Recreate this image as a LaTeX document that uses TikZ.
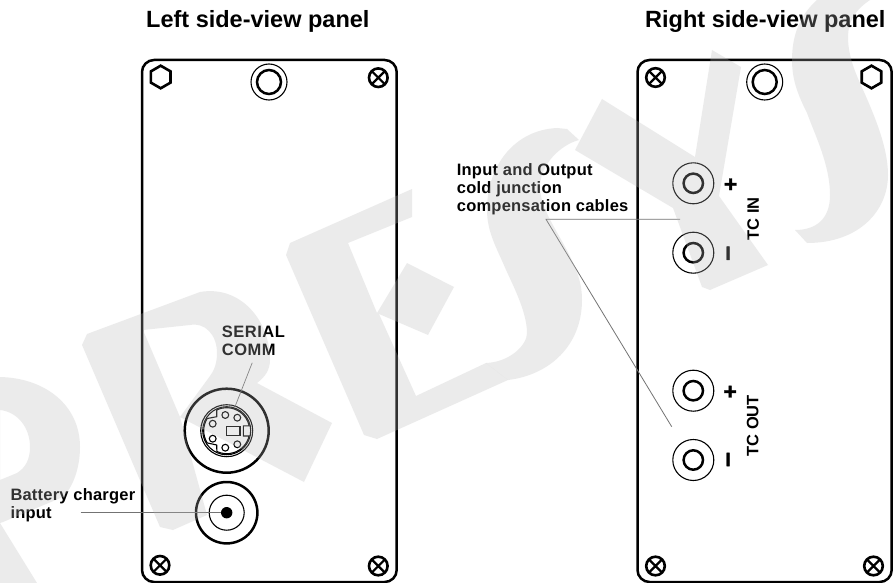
\documentclass[tikz,border=0pt]{standalone}
\usepackage{fontspec}
\setmainfont{Liberation Sans}
\newfontfamily\lblfont[LetterSpace=1.3]{Liberation Sans}
\newfontfamily\serfont[LetterSpace=3]{Liberation Sans}
\newfontfamily\signfont[FakeBold=1.5]{Liberation Sans Bold}
\usetikzlibrary{calc}
\definecolor{lead}{gray}{0.45}
\definecolor{wm}{gray}{0.72}
\tikzset{
  panel/.style={draw=black,line width=2.5pt,rounded corners=12pt},
  thick line/.style={draw=black,line width=2.5pt},
  thin line/.style={draw=black,line width=1.1pt},
  leader/.style={draw=lead,line width=0.8pt},
  title/.style={font=\bfseries\fontsize{23.5}{26}\selectfont,anchor=base west,inner sep=0pt},
  lbl/.style={font=\lblfont\bfseries\fontsize{16.5}{17.8}\selectfont,anchor=north west,inner sep=0pt,align=left},
  ser/.style={font=\serfont\bfseries\fontsize{16.5}{17.8}\selectfont,anchor=north west,inner sep=0pt,align=left},
  tc/.style={font=\bfseries\fontsize{16.5}{18}\selectfont,rotate=90,inner sep=0pt},
  sign/.style={font=\signfont\fontsize{23}{24}\selectfont,rotate=90,inner sep=0pt},
  minussign/.style={font=\signfont\fontsize{27}{28}\selectfont,rotate=90,inner sep=0pt},
  wmark/.style={fill=wm,fill opacity=0.27,even odd rule},
  xscrew/.pic={
    \draw[line width=2.6pt] (0,0) circle (9.3);
    \draw[line width=2.2pt] (45:9.3) -- (225:9.3) (135:9.3) -- (315:9.3);
  },
  hexscrew/.pic={
    \draw[line width=2.6pt,line join=miter] (90:11.3) -- (30:11.3) -- (-30:11.3) -- (-90:11.3) -- (-150:11.3) -- (150:11.3) -- cycle;
  },
  bushing/.pic={
    \draw[thin line] (0,0) circle (18);
    \draw[thick line] (0,0) circle (12);
  },
  jack/.pic={
    \draw[line width=1.1pt] (0,0) circle (20.5);
    \draw[thick line] (0,0) circle (9.7);
  },
  pin/.style={draw=black,line width=1.1pt,fill=none}
}
\begin{document}
\begin{tikzpicture}[x=1pt,y=-1pt]
\useasboundingbox (0,0) rectangle (894,583);
\fill[white] (0,0) rectangle (894,583);

% Panels
\draw[panel] (142,60) rectangle (396.7,582);
\draw[panel] (637.5,60) rectangle (891.7,582);

% Titles
\node[title] (lefttitle) at (146,27.5) {Left side-view panel};
\node[title] (righttitle) at (645,27.5) {Right side-view panel};

% Screws left
\pic at (160.7,77) {hexscrew};
\pic at (378.3,77.7) {xscrew};
\pic at (160,565.3) {xscrew};
\pic at (378.3,566) {xscrew};
\pic at (269,82) {bushing};

% Screws right
\pic at (655.5,77.5) {xscrew};
\pic at (871.5,77) {hexscrew};
\pic at (655.5,566) {xscrew};
\pic at (873.5,566) {xscrew};
\pic at (764.7,82) {bushing};

% Serial connector
\coordinate (din) at (226.7,430.7);
\draw[thick line] (din) circle (42);
\draw[thin line] (din) circle (26);
\draw[thin line] (din) circle (24);
\begin{scope}[shift={(din)},yscale=-1]
  \draw[thin line,line join=miter]
    (-10,20.7) arc[start angle=115.8,end angle=12,radius=23]
    -- (16.6,4.8) -- (16.6,-5.3) -- (22.4,-5.3)
    arc[start angle=-13.3,end angle=-115.4,radius=23]
    -- (-10,-14.3) -- (-19.5,-12.2)
    arc[start angle=212,end angle=148,radius=23]
    -- (-10,14) -- cycle;
  \draw[thin line] (0,-5) rectangle (13.3,4);
\end{scope}
\foreach \p in {(225.3,415),(237.3,417.7),(212.7,423.7),(212.7,438.7),(225.3,447.7),(237.3,444.3)}
  \draw[pin] \p circle (3.4);

% Charger jack
\coordinate (jackc) at (226.7,512.7);
\draw[thick line] (jackc) circle (30.7);
\draw[thin line] (jackc) circle (17.5);
\node[circle,fill=black,inner sep=0pt,minimum size=11.4pt] (chargepin) at (jackc) {};

% TC jacks
\pic at (693.3,183.3) {jack};
\pic at (693.3,252.7) {jack};
\pic at (693.3,390.7) {jack};
\pic at (693.3,460) {jack};
\node[sign] (tcinplus) at (731.5,184.3) {+};
\node[minussign] (tcinminus) at (731,253.3) {–};
\node[sign] (tcoutplus) at (731,391.7) {+};
\node[minussign] (tcoutminus) at (731,459.5) {–};
\node[tc] (tcin) at (753.3,218.8) {TC IN};
\node[tc] (tcout) at (752.7,425.8) {TC OUT};

% Labels
\node[ser] (serial) at (221.7,326) {SERIAL\\COMM};
\node[lbl] (charger) at (10.3,488.2) {Battery charger\\input};
\node[lbl] (cables) at (456.7,163.5) {Input and Output\\cold junction\\compensation cables};

% Leaders
\coordinate (chargerstart) at (80.7,512.7);
\coordinate (serialstart) at (252.2,362.8);
\coordinate (serialend) at (235,406.7);
\coordinate (cablesjoint) at (546,219.3);
\coordinate (cablesin) at (680,219.3);
\coordinate (cablesout) at (671.7,426.7);
\draw[leader] (chargerstart) -- (chargepin.west);
\draw[leader,line width=0.7pt] (serialstart) -- (serialend);
\draw[leader] (cablesin) -- (cablesjoint) -- (cablesout);

% Watermark
\fill[wmark] (0,377) .. controls (45,378) and (80,405) .. (80,447)
   .. controls (80,468) and (73,487) .. (63,497) -- (3,522) -- (0,523) -- cycle
   (0,410) .. controls (18,412) and (30,428) .. (30,447)
   .. controls (30,460) and (25,468) .. (17,473) -- (0,480) -- cycle;
\fill[wmark] (0,523) -- (37,583) -- (0,583) -- cycle;
\fill[wmark] (87,334) -- (200,292) .. controls (240,285) and (270,320) .. (270,360)
   .. controls (270,370) and (265,377) .. (257,383) -- (332,423) -- (304,482) -- (180,417)
   -- (207,515) -- (173,530) -- (160,527) -- (82,345) -- cycle
   (143,330) -- (190,325) .. controls (205,322) and (217,335) .. (217,353)
   .. controls (217,365) and (213,372) .. (210,376) -- (180,417) -- cycle;
\fill[wmark] (290,243) -- (412,189) -- (412,217) -- (348,243) -- (377,313) -- (407,263)
   -- (454,287) -- (428,335) -- (379,314) -- (416,396) -- (486,363) -- (508,380)
   -- (377,439) -- (364,435) -- (286,255) -- cycle;
\fill[wmark] (557,128) -- (567,129) -- (579,140) .. controls (560,145) and (540,165) .. (540,187)
   .. controls (540,205) and (553,225) .. (563,243)
   .. controls (575,265) and (582,280) .. (582,300)
   .. controls (582,345) and (550,375) .. (508,380) -- (486,363)
   .. controls (510,362) and (527,345) .. (527,333)
   .. controls (527,310) and (510,280) .. (503,263)
   .. controls (495,245) and (487,230) .. (487,210)
   .. controls (487,165) and (515,130) .. (557,128) -- cycle;
\fill[wmark] (602,99) -- (695,157) -- (712,50) -- (741,67) -- (719,196) -- (768,265)
   -- (710,290) -- (702,287) -- (673,208) -- (575,150) -- cycle;
\fill[wmark] (870,0) .. controls (855,10) and (848,22) .. (848,37)
   .. controls (848,55) and (855,72) .. (860,83)
   .. controls (872,110) and (888,145) .. (888,175)
   .. controls (888,210) and (860,243) .. (807,243) -- (795,230)
   .. controls (815,230) and (830,220) .. (830,195)
   .. controls (830,165) and (815,135) .. (807,113)
   .. controls (798,95) and (792,80) .. (792,60)
   .. controls (792,35) and (800,15) .. (817,0) -- cycle;
\end{tikzpicture}
\end{document}
